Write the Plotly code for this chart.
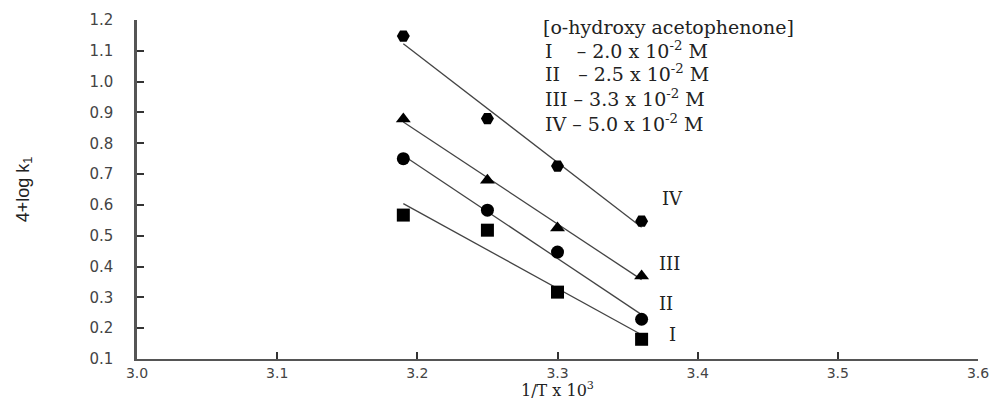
import numpy as np
import plotly.graph_objects as go

inv_T = [3.19, 3.25, 3.30, 3.36]
series_names = ["I", "II", "III", "IV"]
y_I = [0.567, 0.518, 0.317, 0.164]
y_II = [0.75, 0.583, 0.447, 0.229]
y_III = [0.879, 0.68, 0.525, 0.369]
y_IV = [1.148, 0.88, 0.726, 0.547]
symbols = ["square", "circle", "triangle-up", "hexagon2"]
label_pos = [(3.378, 0.18), (3.371, 0.28), (3.371, 0.41), (3.373, 0.62)]
legend_lines = ["[o-hydroxy acetophenone]",
                "I &nbsp;&nbsp;&nbsp;– 2.0 x 10<sup>-2</sup> M",
                "II &nbsp;&nbsp;– 2.5 x 10<sup>-2</sup> M",
                "III – 3.3 x 10<sup>-2</sup> M",
                "IV – 5.0 x 10<sup>-2</sup> M"]
x_ticks = [3.0, 3.1, 3.2, 3.3, 3.4, 3.5, 3.6]
y_ticks = [0.1, 0.2, 0.3, 0.4, 0.5, 0.6, 0.7, 0.8, 0.9, 1.0, 1.1, 1.2]

fig = go.Figure()
all_y = [y_I, y_II, y_III, y_IV]
for name, ys, sym in zip(series_names, all_y, symbols):
    m, c = np.polyfit(inv_T, ys, 1)
    xs = [inv_T[0], inv_T[-1]]
    fig.add_trace(go.Scatter(x=xs, y=[m * x + c for x in xs], mode="lines",
                             line=dict(color="#444", width=1.3), showlegend=False))
    fig.add_trace(go.Scatter(x=inv_T, y=ys, mode="markers",
                             marker=dict(symbol=sym, size=13, color="black"),
                             showlegend=False))

for name, (lx, ly) in zip(series_names, label_pos):
    fig.add_annotation(x=lx, y=ly, text=name, showarrow=False, xanchor="left",
                       font=dict(family="DejaVu Serif", size=18, color="#222"))

ys_leg = [1.177, 1.103, 1.028, 0.947, 0.866]
for i, (t, yy) in enumerate(zip(legend_lines, ys_leg)):
    fig.add_annotation(x=3.379 if i == 0 else 3.29, y=yy, text=t, showarrow=False,
                       xanchor="center" if i == 0 else "left",
                       font=dict(family="DejaVu Serif", size=19, color="#222"))

fig.update_xaxes(range=[3.0, 3.6], tickvals=x_ticks,
                 ticktext=[f"{v:.1f}" for v in x_ticks],
                 ticks="inside", ticklen=7, tickcolor="#333", tickwidth=1.5,
                 ticklabelstandoff=0, automargin=False,
                 showline=True, linecolor="#555", linewidth=2, showgrid=False,
                 zeroline=False,
                 tickfont=dict(family="DejaVu Sans", size=14, color="#444"),
                 title=dict(text="1/T x 10<sup>3</sup>", standoff=2,
                            font=dict(family="DejaVu Serif", size=16, color="#222")))
fig.update_yaxes(range=[0.1, 1.2], tickvals=y_ticks,
                 ticktext=[f"{v:.1f}" for v in y_ticks],
                 ticks="inside", ticklen=7, tickcolor="#333", tickwidth=1.5,
                 ticklabelstandoff=18, automargin=False,
                 showline=True, linecolor="#555", linewidth=2.5, showgrid=False,
                 zeroline=False,
                 tickfont=dict(family="DejaVu Sans", size=15, color="#444"),
                 title=dict(text="4+log k<sub>1</sub>", standoff=56,
                            font=dict(family="Liberation Sans Narrow, Liberation Sans", size=18, color="#222")))

fig.update_layout(width=1000, height=400, plot_bgcolor="white", paper_bgcolor="white",
                  margin=dict(l=137, r=22, t=20, b=41))
fig.write_html("out.html")
